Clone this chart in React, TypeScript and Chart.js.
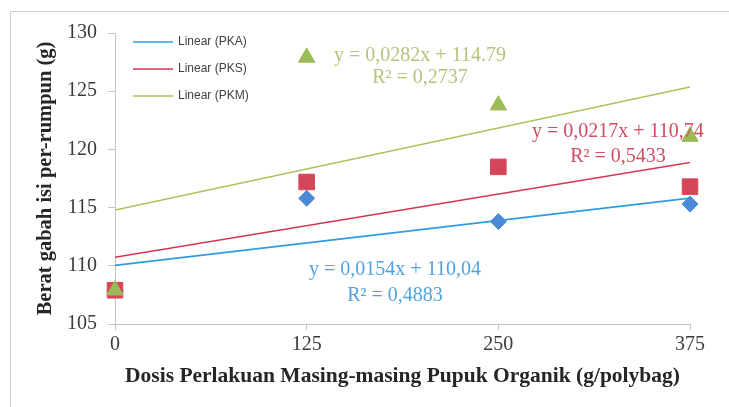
import React, { useEffect, useRef } from "react";
import { Chart, registerables } from "chart.js";
Chart.register(...registerables);

// ---- data ----
const doses = [0, 125, 250, 375];
const seriesNames = ["PKA", "PKS", "PKM"];
const pkaValues = [107.9, 115.8, 113.8, 115.3];
const pksValues = [107.9, 117.2, 118.5, 116.8];
const pkmValues = [107.9, 127.9, 123.8, 121.1];
const fitSlopes = [0.0154, 0.0217, 0.0282];
const fitIntercepts = [110.04, 110.74, 114.79];
const fitEquations = ["y = 0,0154x + 110,04", "y = 0,0217x + 110,74", "y = 0,0282x + 114.79"];
const fitR2 = ["R² = 0,4883", "R² = 0,5433", "R² = 0,2737"];
// label anchor (data coordinates) for each equation: x, y line1, y line2
const eqAnchorX = [182.6, 328, 198.9];
const eqAnchorY1 = [109.64, 121.52, 128.02];
const eqAnchorY2 = [107.41, 119.37, 126.13];
const yMin = 105;
const yMax = 130;
const yStep = 5;
const xMin = 0;
const xMax = 375;
const xStep = 125;
const xTitle = "Dosis Perlakuan Masing-masing Pupuk Organik (g/polybag)";
const yTitle = "Berat gabah isi per-rumpun (g)";

// ---- styles ----
const markerColors = ["#4a8ad6", "#d4475a", "#9cbb58"];
const lineColors = ["#2f9ce0", "#d8334d", "#a9c35a"];
const textColors = ["#4fa3e0", "#d24c60", "#b3c57a"];
const pointStyles = ["rectRot", "rect", "triangle"];
const pointRadii = [8, 11, 9.5];
const axisColor = "#c4c4c4";
const serif = "'Liberation Serif', 'Times New Roman', serif";

export default function App() {
  const ref = useRef<HTMLCanvasElement | null>(null);
  useEffect(() => {
    document.body.style.margin = "0";
    const canvas = ref.current!;
    const valueSets = [pkaValues, pksValues, pkmValues];

    const scatterSets = seriesNames.map((name, i) => ({
      type: "scatter" as const,
      label: name,
      data: doses.map((d, j) => ({ x: d, y: valueSets[i][j] })),
      pointStyle: pointStyles[i],
      pointRadius: pointRadii[i],
      pointBackgroundColor: markerColors[i],
      pointBorderColor: markerColors[i],
      pointBorderWidth: 1,
      showLine: false,
      clip: false,
      order: 2 - i,
    }));
    const trendSets = seriesNames.map((name, i) => ({
      type: "line" as const,
      label: "Linear (" + name + ")",
      data: [xMin, xMax].map((x) => ({ x, y: fitIntercepts[i] + fitSlopes[i] * x })),
      borderColor: lineColors[i],
      borderWidth: 1.6,
      pointRadius: 0,
      fill: false,
      order: 5,
    }));

    const overlay = {
      id: "overlay",
      afterDraw(chart: any) {
        const { ctx, chartArea, scales } = chart;
        ctx.save();
        // outer frame
        ctx.strokeStyle = "#cfcfcf";
        ctx.lineWidth = 1;
        ctx.strokeRect(10.5, 11.5, 760, 420);
        // legend
        ctx.font = "12px 'Liberation Sans', Arial, sans-serif";
        ctx.textBaseline = "middle";
        ctx.textAlign = "left";
        seriesNames.forEach((name, i) => {
          const y = chartArea.top + 9 + i * 27;
          ctx.strokeStyle = lineColors[i];
          ctx.lineWidth = 1.6;
          ctx.beginPath();
          ctx.moveTo(chartArea.left + 18, y);
          ctx.lineTo(chartArea.left + 58, y);
          ctx.stroke();
          ctx.fillStyle = "#404040";
          ctx.fillText("Linear (" + name + ")", chartArea.left + 63, y);
        });
        // equations
        ctx.font = "20px " + serif;
        ctx.textAlign = "center";
        seriesNames.forEach((_, i) => {
          const x = scales.x.getPixelForValue(eqAnchorX[i]);
          ctx.fillStyle = textColors[i];
          ctx.fillText(fitEquations[i], x, scales.y.getPixelForValue(eqAnchorY1[i]));
          ctx.fillText(fitR2[i], x, scales.y.getPixelForValue(eqAnchorY2[i]));
        });
        ctx.restore();
      },
    };

    const chart = new Chart(canvas, {
      data: { datasets: [...trendSets, ...scatterSets] as any },
      options: {
        responsive: false,
        animation: false,
        layout: { padding: { left: 30, top: 33, right: 39, bottom: 14 } },
        plugins: { legend: { display: false }, tooltip: { enabled: false } },
        scales: {
          x: {
            type: "linear",
            min: xMin,
            max: xMax,
            afterFit: (s: any) => {
              s.height = 69;
            },
            ticks: { stepSize: xStep, color: "#3a3a3a", font: { family: serif, size: 20 }, padding: 3 },
            grid: { drawOnChartArea: false, drawTicks: true, tickLength: 6, color: axisColor },
            border: { display: true, color: axisColor },
            title: {
              display: true,
              text: xTitle,
              color: "#262626",
              font: { family: serif, size: 21.5, weight: "bold" },
              padding: { top: 4, bottom: 4 },
            },
          },
          y: {
            type: "linear",
            min: yMin,
            max: yMax,
            afterFit: (s: any) => {
              s.width = 85;
            },
            ticks: { stepSize: yStep, color: "#3a3a3a", font: { family: serif, size: 20 }, padding: 11 },
            grid: { drawOnChartArea: false, drawTicks: true, tickLength: 7, color: axisColor },
            border: { display: true, color: axisColor },
            title: {
              display: true,
              text: yTitle,
              color: "#262626",
              font: { family: serif, size: 20.5, weight: "bold" },
              padding: { top: 3, bottom: 4 },
            },
          },
        },
      } as any,
      plugins: [overlay],
    });
    return () => chart.destroy();
  }, []);
  return (
    <div style={{ width: 729, height: 407, position: "relative", background: "#fff" }}>
      <canvas ref={ref} width={729} height={407} style={{ display: "block" }} />
    </div>
  );
}
